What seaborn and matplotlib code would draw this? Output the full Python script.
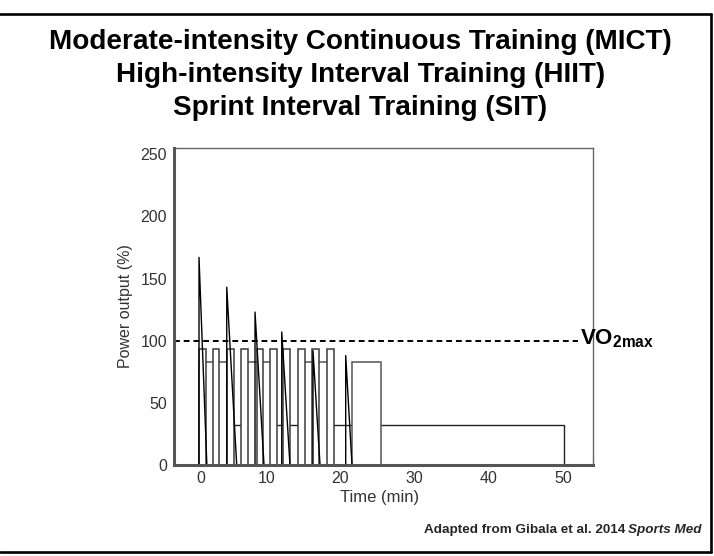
import matplotlib
matplotlib.use("Agg")
import matplotlib.pyplot as plt
from matplotlib.lines import Line2D
import numpy as np
import pandas as pd
import seaborn as sns

# values (time in min, power in % of VO2max power)
MICT_START, MICT_END, MICT_LEVEL = 0.94, 50.1, 32

BOUT_START = [0.94, 7.0, 14.6, 21.6]
BOUT_END = [5.1, 11.05, 18.6, 25.5]
BOUT_LEVEL = 83

HIIT_START = [0.94, 2.79, 4.72, 6.60, 8.76, 10.50, 12.30, 14.33, 16.21, 18.23]
HIIT_END = [1.89, 3.68, 5.66, 7.55, 9.57, 11.46, 13.25, 15.23, 17.16, 19.18]
HIIT_LEVEL = 93

SIT_TIME = [0.94, 0.94, 2.0, 4.68, 4.68, 6.02, 8.49, 8.49, 9.70, 12.09, 12.09,
            13.2, 16.3, 16.3, 17.25, 20.71, 20.71, 21.56]
SIT_POWER = [0, 167, 0, 0, 143, 0, 0, 123, 0, 0, 107, 0, 0, 92, 0, 0, 88, 0]

VO2MAX_LEVEL = 100
VO2MAX_DASH_END = 52.0

XLIM = (-2.43, 54.0)
YLIM = (0, 255)
XTICK_POS = [1.2, 10, 20, 30, 40, 50]
XTICK_LABELS = ["0", "10", "20", "30", "40", "50"]
YTICKS = [0, 50, 100, 150, 200, 250]

TITLE_LINES = ["Moderate-intensity Continuous Training (MICT)",
               "High-intensity Interval Training (HIIT)",
               "Sprint Interval Training (SIT)"]

sns.set_style("white")
plt.rcParams['font.family'] = ['Liberation Sans', 'DejaVu Sans']
plt.rcParams['mathtext.fontset'] = 'custom'
plt.rcParams['mathtext.rm'] = 'Liberation Sans'
plt.rcParams['mathtext.bf'] = 'Liberation Sans:bold'

W, H = 714, 556
fig = plt.figure(figsize=(W / 100, H / 100), dpi=100)
ax = fig.add_axes([174 / W, 1 - 465 / H, (592.7 - 174) / W, (465 - 148) / H])

# MICT underneath, then 4x4 bouts, then HIIT bars, SIT trace on top
ax.bar(MICT_START, MICT_LEVEL, width=MICT_END - MICT_START, align='edge',
       facecolor='white', edgecolor='#222222', linewidth=1.0, zorder=1)
ax.bar(BOUT_START, BOUT_LEVEL, width=np.subtract(BOUT_END, BOUT_START), align='edge',
       facecolor='white', edgecolor='#555555', linewidth=1.1, zorder=2)
ax.bar(HIIT_START, HIIT_LEVEL, width=np.subtract(HIIT_END, HIIT_START), align='edge',
       facecolor='white', edgecolor='#3a3a3a', linewidth=1.1, zorder=3)

sit = pd.DataFrame({'Time': SIT_TIME, 'Power': SIT_POWER})
sns.lineplot(data=sit, x='Time', y='Power', sort=False, estimator=None,
             color='black', linewidth=1.0, ax=ax, zorder=4)

ax.hlines(VO2MAX_LEVEL, XLIM[0], VO2MAX_DASH_END, colors='black',
          linestyles=[(0, (3, 2))], linewidth=1.4, zorder=5, clip_on=False)
ax.text(52.3, 97, r'$\mathbf{VO}_{\mathbf{2max}}$', fontsize=16, ha='left',
        va='baseline', color='black', zorder=6, clip_on=False)

ax.set_xlim(*XLIM)
ax.set_ylim(*YLIM)
ax.set_xticks(XTICK_POS)
ax.set_xticklabels(XTICK_LABELS)
ax.set_yticks(YTICKS)
ax.tick_params(axis='both', length=0, labelsize=11.5, labelcolor='#333333')
ax.tick_params(axis='x', pad=4)
ax.tick_params(axis='y', pad=5)

ax.set_xlabel("Time (min)", fontsize=12, color='#333333')
ax.set_ylabel("Power output (%)", fontsize=11.5, color='#333333')
ax.xaxis.set_label_coords(0.49, -0.078)
ax.xaxis.label.set_va('top')
ax.yaxis.set_label_coords(-0.098, 0.5)

for side in ['left', 'bottom']:
    ax.spines[side].set(linewidth=2.2, color='#555555', zorder=6)
for side in ['top', 'right']:
    ax.spines[side].set(linewidth=1.0, color='#666666')

# title block
for line, base in zip(TITLE_LINES, [49, 82, 115]):
    fig.text(360.5 / W, 1 - base / H, line, ha='center', va='baseline',
             fontsize=20.1, fontweight='bold', color='black')

# source note: bold + bold italic
fig.canvas.draw()
r = fig.canvas.get_renderer()
t2 = fig.text(702 / W, 1 - 533 / H, "Sports Med", ha='right', va='baseline',
              fontsize=9.7, fontweight='bold', fontstyle='italic')
bb = t2.get_window_extent(renderer=r)
fig.text(bb.x0 / W - 3 / W, 1 - 533 / H, "Adapted from Gibala et al. 2014", ha='right',
         va='baseline', fontsize=9.7, fontweight='bold')

# frame around the slide
frame = dict(color='black', linewidth=1.9, transform=fig.transFigure)
fig.add_artist(Line2D([0, 711 / W], [1 - 14 / H, 1 - 14 / H], **frame))
fig.add_artist(Line2D([711 / W, 711 / W], [1 - 14 / H, 1 - 551.5 / H], **frame))
fig.add_artist(Line2D([0, 711 / W], [1 - 551.5 / H, 1 - 551.5 / H], **frame))

fig.savefig("out.png", dpi=100)
